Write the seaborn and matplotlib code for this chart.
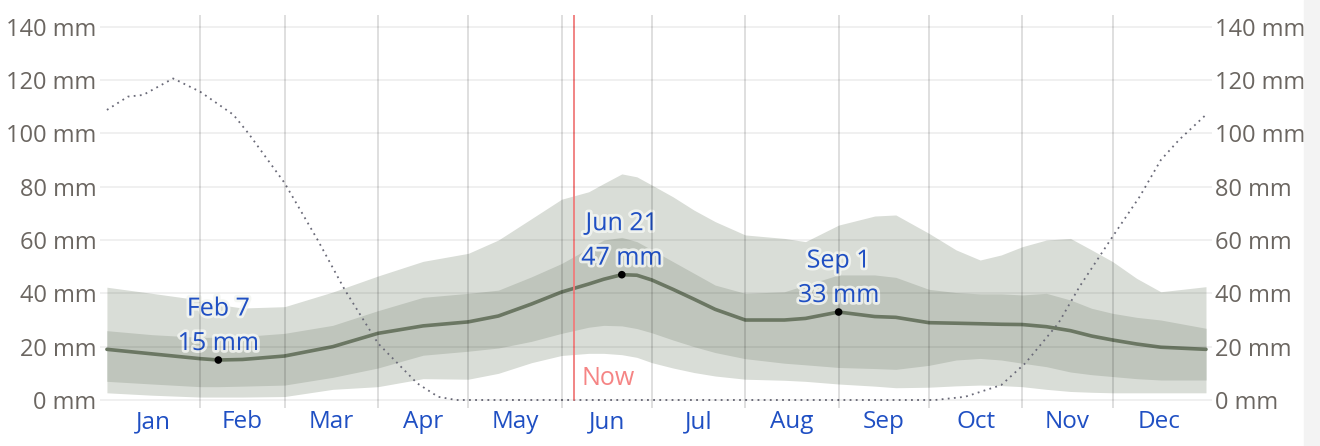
import matplotlib
matplotlib.use("Agg")
import matplotlib.pyplot as plt
import matplotlib.patheffects as pe
import seaborn as sns

# day of year for the sampled points
days = [0, 15, 31, 37, 45, 59, 75, 90, 105, 120, 130, 141, 151, 160, 165, 171, 176, 181, 188,
        195, 202, 212, 225, 232, 243, 255, 262, 273, 282, 290, 297, 304, 312, 320, 327, 334,
        342, 350, 365]
# sliding 31-day rainfall, mm
rain_mean = [19, 17.3, 15.5, 15, 15.2, 16.5, 20, 25, 27.8, 29.3, 31.5, 36, 40.5, 43.5, 45.3, 47,
             46.8, 45, 41.5, 37.8, 34, 30, 30, 30.6, 33, 31.3, 31, 29, 28.8, 28.6, 28.4, 28.3,
             27.5, 26, 24, 22.5, 21, 19.8, 19]
rain_p90 = [42.3, 40, 37.5, 35.8, 34.5, 35, 40.5, 46.5, 52, 55, 60, 68, 75.3, 78.1, 81.2, 84.8,
            83.7, 80.6, 76.2, 71.2, 66.9, 61.9, 60.6, 59.4, 65.6, 69, 69.4, 62.5, 56.3, 52.5,
            54.4, 57.5, 60, 60.6, 56.3, 51.9, 45.6, 40.6, 42.5]
rain_p75 = [26, 24.5, 23.5, 23.5, 23.8, 25, 28, 33.5, 38.5, 40, 41.2, 46.2, 51.2, 56.9, 60, 61,
            59.4, 56.3, 51.9, 47.5, 43.1, 40, 40.6, 43.1, 46.9, 46.9, 46, 41.5, 40.3, 39.8, 39.8,
            39.4, 40, 37.5, 34.4, 32.5, 31, 30, 26.9]
rain_p25 = [7, 6, 5, 5, 5.2, 5.6, 8.5, 12, 16.8, 18.3, 19.5, 22, 25, 27.3, 28, 27.8, 26.8, 25.2,
            22.5, 20, 17.8, 15.5, 13.8, 13.2, 12.2, 11.8, 11.5, 13, 15, 15.6, 15, 13.8, 12.5,
            10.5, 9.5, 8.8, 8, 7.5, 7.5]
rain_p10 = [2.7, 1.8, 1.1, 1.1, 1.1, 1.3, 4, 5, 8, 7.8, 10, 14, 16.7, 17.5, 17.5, 17, 16, 14,
            12, 10.3, 9, 7.8, 7.4, 7, 6, 5.2, 4.6, 4.8, 5.3, 5.6, 5.4, 5, 4, 3.2, 2.9, 2.7,
            2.7, 2.7, 2.7]

# dotted line (liquid-equivalent snowfall), mm
snow_days = [0, 7, 12, 22, 31, 42, 47, 59, 70, 79, 90, 103, 110, 116, 200, 275,
             285, 297, 305, 316, 323, 334, 343, 350, 356, 365]
snow_mm = [108.8, 113.8, 114.4, 120.6, 115.6, 107, 100, 81.4, 60, 41.3, 21.3, 6.3, 1.2, 0, 0, 0,
           1.2, 5.6, 13.8, 28.8, 42.5, 61.3, 76.3, 90, 97.5, 107]

month_names = ["Jan", "Feb", "Mar", "Apr", "May", "Jun", "Jul", "Aug", "Sep", "Oct", "Nov", "Dec"]
month_starts = [0, 31, 59, 90, 120, 151, 181, 212, 243, 273, 304, 334, 365]

ext_days = [37, 171, 243]
ext_vals = [15, 47, 33]
ext_labels = ["Feb 7\n15 mm", "Jun 21\n47 mm", "Sep 1\n33 mm"]
now_day = 155

sns.set_style("white")
plt.rcParams["font.family"] = ["Open Sans", "DejaVu Sans"]

fig = plt.figure(figsize=(13.2, 4.46), dpi=100)
ax = fig.add_axes([100 / 1320, 38 / 446, 1112 / 1320, 393 / 446])

ax.fill_between(days, rain_p10, rain_p90, color="#d9ddd7", lw=0, zorder=1)
ax.fill_between(days, rain_p25, rain_p75, color="#bfc5bc", lw=0, zorder=2)

sns.lineplot(x=snow_days, y=snow_mm, ax=ax, color="#6a6a78", lw=1.3,
             linestyle=(0, (1, 2.4)), zorder=3)
sns.lineplot(x=days, y=rain_mean, ax=ax, color="#6b7763", lw=2.6, zorder=4)
sns.scatterplot(x=ext_days, y=ext_vals, ax=ax, color="black", s=30, zorder=6,
                edgecolor="none")

halo = [pe.withStroke(linewidth=4, foreground="#f4f6f2", alpha=0.85)]
for d, v, t in zip(ext_days, ext_vals, ext_labels):
    ax.annotate(t, (d, v), xytext=(0, 4), textcoords="offset pixels", ha="center",
                va="bottom", fontsize=18, color="#1f4fc3", linespacing=1.5,
                path_effects=halo, zorder=7)

ax.set_xlim(-2.3, 367)
ax.set_ylim(-3, 144.4)

ax.axvline(now_day, color="#f07b7b", lw=1.3, zorder=5, ymin=3 / 147.4)
ax.text(now_day + 2.7, 8, "Now", color="#f58484", fontsize=18, va="center", ha="left",
        zorder=7)

yt = list(range(0, 141, 20))
ax.set_yticks(yt)
ax.set_yticklabels([f"{v} mm" for v in yt])
ax.tick_params(axis="y", length=0, pad=2.5, labelsize=17, labelcolor="#6b6661",
               labelright=True, right=False)

mids = [(a + b) / 2 for a, b in zip(month_starts[:-1], month_starts[1:])]
ax.set_xticks(mids)
ax.set_xticklabels(month_names)
ax.tick_params(axis="x", which="both", length=0, pad=1.5, labelsize=17.5,
               labelcolor="#1f4fc3")

ax.grid(False)
for y in yt:
    ax.axhline(y, color="black", alpha=0.07, lw=1.2, zorder=8)
for d in month_starts[1:-1]:
    ax.axvline(d, color="black", alpha=0.15, lw=1.2, zorder=8)

for s in ax.spines.values():
    s.set_visible(False)
ax.set_xlabel("")
ax.set_ylabel("")

# faded strip at the right edge of the screenshot
fig.patches.append(plt.Rectangle((1304 / 1320, 0), 16 / 1320, 1, transform=fig.transFigure,
                                 color="#f3f3f3", zorder=10))

fig.savefig("out.png", dpi=100)
